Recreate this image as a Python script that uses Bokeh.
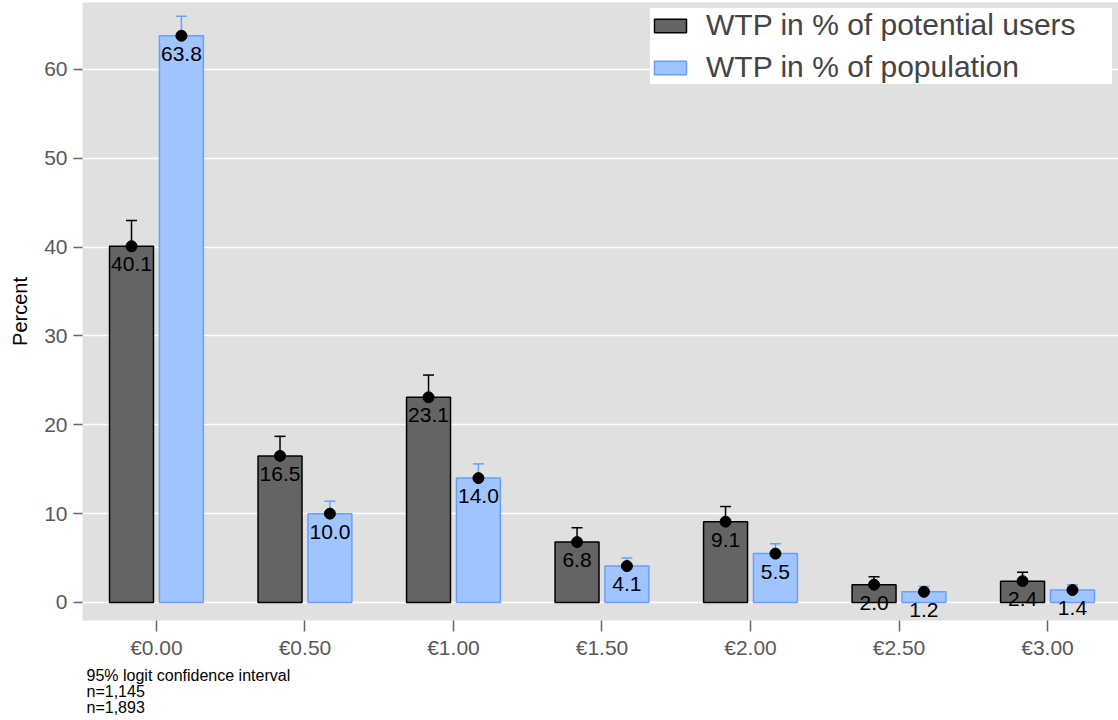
from bokeh.plotting import figure
from bokeh.models import ColumnDataSource, Whisker, TeeHead, Legend, LegendItem, Title, FixedTicker
from bokeh.core.properties import value
from bokeh.embed import file_html
from bokeh.resources import INLINE

prices = [0.0, 0.5, 1.0, 1.5, 2.0, 2.5, 3.0]
price_labels = ["€0.00", "€0.50", "€1.00", "€1.50", "€2.00", "€2.50", "€3.00"]
users_pct = [40.1, 16.5, 23.1, 6.8, 9.1, 2.0, 2.4]
users_lo = [37.3, 14.4, 20.7, 5.5, 7.6, 1.3, 1.7]
users_hi = [43.0, 18.7, 25.6, 8.4, 10.8, 2.9, 3.4]
pop_pct = [63.8, 10.0, 14.0, 4.1, 5.5, 1.2, 1.4]
pop_lo = [61.6, 8.7, 12.5, 3.3, 4.6, 0.8, 0.95]
pop_hi = [66.0, 11.4, 15.6, 5.0, 6.6, 1.8, 2.0]
series_names = ["WTP in % of potential users", "WTP in % of population"]
notes = ["95% logit confidence interval", "n=1,145", "n=1,893"]

FONT = "Liberation Sans"
OFF = 0.084
BW = 0.148
X0, X1 = -0.249, 3.239
Y0, Y1 = -2.03, 67.54

src_u = ColumnDataSource(dict(
    x=[p - OFF for p in prices], top=users_pct, lo=users_lo, hi=users_hi,
    lab=[f"{v:.1f}" for v in users_pct]))
src_p = ColumnDataSource(dict(
    x=[p + OFF for p in prices], top=pop_pct, lo=pop_lo, hi=pop_hi,
    lab=[f"{v:.1f}" for v in pop_pct]))

p = figure(width=1118, height=720, output_backend="svg", toolbar_location=None,
           x_range=(X0, X1), y_range=(Y0, Y1), y_axis_label="Percent",
           min_border_left=82, min_border_right=0, min_border_top=2, min_border_bottom=100)
p.background_fill_color = "#e0e0e0"
p.border_fill_color = "white"
p.outline_line_color = None

r_u = p.vbar(x="x", top="top", bottom=0, width=BW, source=src_u,
             fill_color="#646464", line_color="black", line_width=1.5)
r_p = p.vbar(x="x", top="top", bottom=0, width=BW, source=src_p,
             fill_color="#a0c4ff", line_color="#65a0ff", line_width=1.5)

for src, col in ((src_u, "black"), (src_p, "#65a0ff")):
    w = Whisker(base="x", upper="hi", lower="lo", source=src, dimension="height",
                line_color=col, line_width=1.5,
                upper_head=TeeHead(size=11, line_color=col, line_width=1.5),
                lower_head=TeeHead(size=11, line_color=col, line_width=1.5))
    p.add_layout(w)

for src in (src_u, src_p):
    p.text(x="x", y="top", text="lab", source=src, text_align="center",
           text_baseline="top", y_offset=11, text_font=value(FONT),
           text_font_size="21px", text_color="black")
    p.scatter(x="x", y="top", source=src, size=11, fill_color="black", line_color="black")

# axes
p.xgrid.grid_line_color = None
p.ygrid.grid_line_color = "white"
p.ygrid.grid_line_width = 1.5
p.yaxis.ticker = FixedTicker(ticks=[0, 10, 20, 30, 40, 50, 60])
p.xaxis.ticker = FixedTicker(ticks=prices)
p.xaxis.major_label_overrides = {pv: lab for pv, lab in zip(prices, price_labels)}
for ax in (p.xaxis[0], p.yaxis[0]):
    ax.axis_line_color = None
    ax.minor_tick_line_color = None
    ax.major_tick_in = 0
    ax.major_tick_line_color = "#666666"
    ax.major_tick_line_width = 1.5
    ax.major_label_text_color = "#595959"
    ax.major_label_text_font = FONT
    ax.major_label_text_font_size = "21px"
p.yaxis.major_tick_out = 9
p.yaxis.major_label_standoff = 6
p.xaxis.major_tick_out = 11
p.xaxis.major_label_standoff = 4
p.yaxis.axis_label_text_font = FONT
p.yaxis.axis_label_text_font_style = "normal"
p.yaxis.axis_label_text_font_size = "20px"
p.yaxis.axis_label_text_color = "black"
p.yaxis.axis_label_standoff = 10

legend = Legend(items=[LegendItem(label=series_names[0], renderers=[r_u]),
                       LegendItem(label=series_names[1], renderers=[r_p])],
                location="top_right", margin=6, padding=13, spacing=8,
                glyph_width=40, glyph_height=17, label_standoff=16, label_width=406,
                label_text_font=FONT, label_text_font_size="30px",
                border_line_color=None, background_fill_color="white",
                background_fill_alpha=1.0)
p.add_layout(legend)

p.add_layout(Title(text="\n".join(notes), align="left", offset=4, standoff=7,
                   text_font=FONT, text_font_size="16px", text_font_style="normal",
                   text_color="black", text_line_height=0.94), "below")

open("out.html", "w").write(file_html(p, INLINE))
